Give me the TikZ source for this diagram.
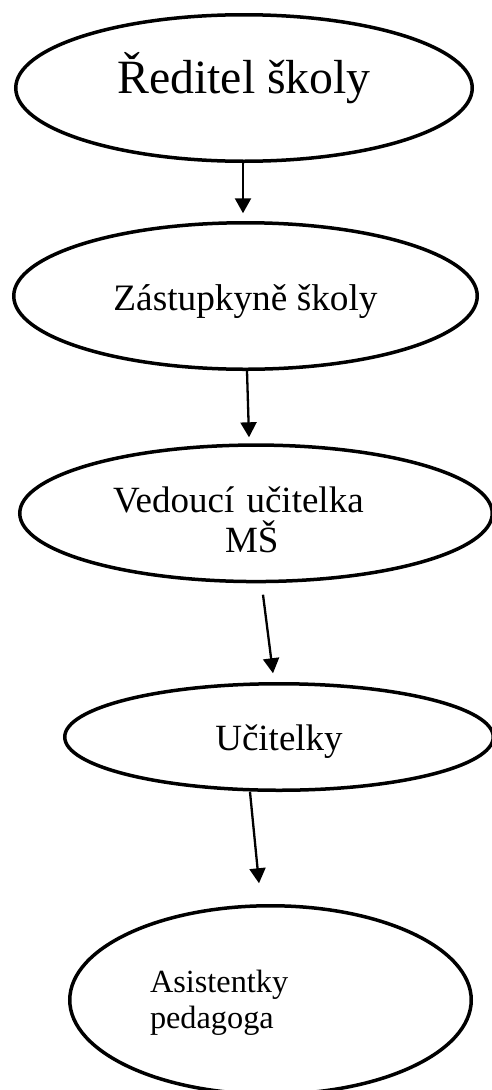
\documentclass[tikz,border=0pt]{standalone}
\usepackage{fontspec}
\setmainfont{Liberation Serif}
\usetikzlibrary{arrows.meta,shapes.geometric}

\begin{document}
\begin{tikzpicture}[x=1pt, y=1pt, -{Triangle[width=16pt,length=15pt]}, line width=2.3pt, main node/.style={ellipse,draw,line width=3.5pt,inner sep=0pt}]

\useasboundingbox (0,0) rectangle (492,-1090);

\node[main node, minimum width=456.5pt, minimum height=146.5pt, font=\fontsize{47.8}{50}\selectfont, text height=20pt, text depth=10pt](1) at (244,-88) {Ředitel školy};
\node[main node, minimum width=463.5pt, minimum height=146.5pt, font=\fontsize{37.3}{40}\selectfont, text height=28pt, text depth=0pt](2) at (245.5,-296) {Zástupkyně školy};
\node[main node, minimum width=472.5pt, minimum height=136.5pt, font=\fontsize{37}{40}\selectfont, text width=286pt, align=left, text height=0pt, text depth=2.6pt](3) at (256,-513.3) {Vedoucí učitelka\\\hspace*{112pt}MŠ};
\node[main node, minimum width=428.5pt, minimum height=106.5pt, font=\fontsize{37}{40}\selectfont, text height=26pt, text depth=0pt](4) at (279,-737) {Učitelky};
\node[main node, minimum width=401.5pt, minimum height=188.5pt, font=\fontsize{32.3}{36}\selectfont, text width=241pt, align=left, text height=0pt, text depth=16pt](5) at (270.5,-1000) {Asistentky\\pedagoga};

\draw ([xshift=-1pt]1.south) -- ([xshift=-2.5pt, yshift=7.75pt]2.north);
\draw ([xshift=1.5pt]2.south) -- ([xshift=-7pt, yshift=6pt]3.north);
\draw ([xshift=7pt, yshift=-11.4pt]3.south) -- ([xshift=-6pt, yshift=8.75pt]4.north);
\draw ([xshift=-29pt]4.south) -- ([xshift=-11.5pt, yshift=20.75pt]5.north);

\end{tikzpicture}
\end{document}
